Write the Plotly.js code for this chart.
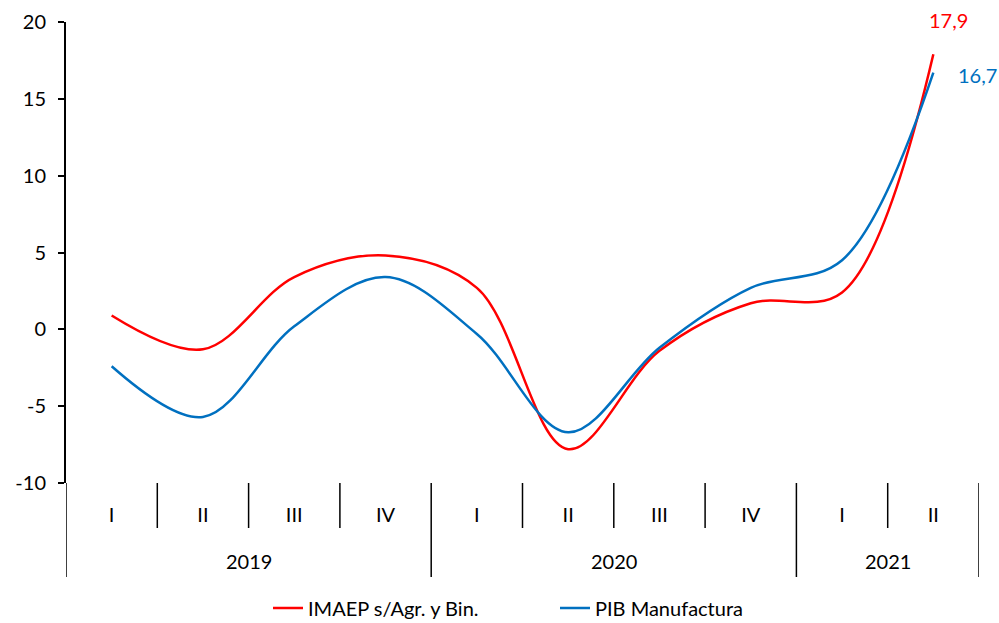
<!DOCTYPE html>
<html>
<head>
<meta charset="utf-8">
<script src="https://cdn.plot.ly/plotly-3.0.1.min.js"></script>
<style>html,body{margin:0;padding:0;background:#fff;}#chart{width:999px;height:623px;}</style>
</head>
<body>
<div id="chart"></div>
<script>
const years = ['2019','2019','2019','2019','2020','2020','2020','2020','2021','2021'];
const quarters = ['I','II','III','IV','I','II','III','IV','I','II'];
const imaep = [0.9, -1.3, 3.4, 4.8, 2.7, -7.8, -1.4, 1.7, 2.4, 17.9];
const pibManufactura = [-2.4, -5.7, 0.2, 3.4, -0.3, -6.7, -1.2, 2.7, 4.5, 16.7];
const yTickVals = [-10, -5, 0, 5, 10, 15, 20];
const yTickText = ['-10', '-5', '0', '5', '10', '15', '20'];
const seriesNames = ['IMAEP s/Agr. y Bin.', 'PIB Manufactura'];
const colors = ['#FF0000', '#0070C0'];

const FONT = 'Lato, "Open Sans", sans-serif';
const fmt = v => v.toFixed(1).replace('.', ',');

const idx = quarters.map((q, i) => i);
const last = quarters.length - 1;

const traces = [imaep, pibManufactura].map((vals, i) => ({
  type: 'scatter', mode: 'lines',
  x: idx, y: vals,
  name: seriesNames[i],
  line: {color: colors[i], width: 2.5, shape: 'spline', smoothing: 1},
  xaxis: 'x', yaxis: 'y'
}));

// boundaries between quarters; year boundaries where the year changes (plus both ends)
const qBounds = [], yBounds = [-0.5];
for (let i = 1; i < quarters.length; i++) {
  if (years[i] !== years[i - 1]) yBounds.push(i - 0.5); else qBounds.push(i - 0.5);
}
yBounds.push(last + 0.5);

const plotH = 623 - 22 - 140;
const shapes = [];
qBounds.forEach(b => shapes.push({type: 'line', xref: 'x', yref: 'paper', x0: b, x1: b,
  y0: 0, y1: -45 / plotH, line: {color: '#000', width: 1.5}}));
yBounds.forEach(b => shapes.push({type: 'line', xref: 'x', yref: 'paper', x0: b, x1: b,
  y0: 0, y1: -94 / plotH, line: {color: '#000', width: 1.5}}));

// year labels at the centre of each year group
const yearNames = [...new Set(years)];
const yearAnn = yearNames.map(yr => {
  const ii = idx.filter(i => years[i] === yr);
  return {x: (ii[0] + ii[ii.length - 1]) / 2, xref: 'x', y: -78 / plotH, yref: 'paper',
    text: yr, showarrow: false, yanchor: 'middle', font: {family: FONT, size: 20, color: '#000'}};
});

const layout = {
  width: 999, height: 623,
  margin: {l: 66, r: 20, t: 22, b: 140},
  paper_bgcolor: '#fff', plot_bgcolor: '#fff',
  font: {family: FONT, size: 20, color: '#000'},
  showlegend: true,
  legend: {orientation: 'h', xref: 'container', yref: 'container', x: 268 / 999, xanchor: 'left',
           y: 15 / 623, yanchor: 'middle', entrywidth: 242, itemclick: false,
           font: {family: FONT, size: 20, color: '#000'}},
  xaxis: {
    range: [-0.5, last + 0.5], tickvals: idx, ticktext: quarters,
    showgrid: false, zeroline: false, showline: false, ticks: '',
    ticklabelstandoff: 18,
    tickfont: {family: FONT, size: 20, color: '#000'}
  },
  xaxis2: {
    overlaying: 'x', anchor: 'free', position: 10 / 30,
    range: [-0.5, last + 0.5], tickvals: qBounds.concat(yBounds.slice(1, -1)), showticklabels: false,
    ticks: 'outside', ticklen: 6, tickcolor: '#000', tickwidth: 2,
    showline: true, linecolor: '#000', linewidth: 2,
    showgrid: false, zeroline: false
  },
  yaxis: {
    range: [-10, 20], tickvals: yTickVals, ticktext: yTickText, showgrid: false, zeroline: false,
    showline: true, linecolor: '#000', linewidth: 2,
    ticks: 'outside', ticklen: 6, tickcolor: '#000', tickwidth: 2, ticklabelstandoff: 8,
    tickfont: {family: FONT, size: 20, color: '#000'}
  },
  shapes: shapes,
  annotations: yearAnn.concat([
    {x: last, y: imaep[last], xref: 'x', yref: 'y', text: fmt(imaep[last]), showarrow: false,
     xshift: 15, yshift: 34, font: {family: FONT, size: 20, color: colors[0]}},
    {x: last, y: pibManufactura[last], xref: 'x', yref: 'y', text: fmt(pibManufactura[last]), showarrow: false,
     xshift: 44, yshift: -2, font: {family: FONT, size: 20, color: colors[1]}}
  ])
};

Plotly.newPlot('chart', traces, layout, {displayModeBar: false, staticPlot: true});
</script>
</body>
</html>
